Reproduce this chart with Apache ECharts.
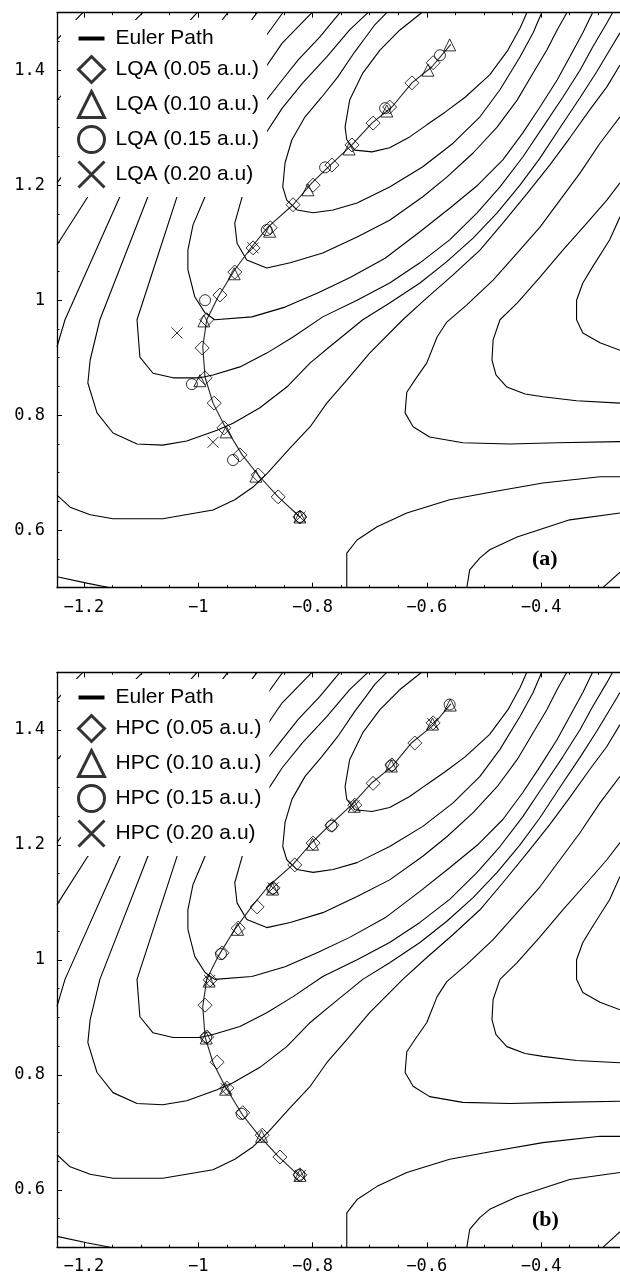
<!DOCTYPE html>
<html>
<head>
<meta charset="utf-8">
<script src="https://cdn.jsdelivr.net/npm/echarts@6/dist/echarts.min.js"></script>
<style>
  html, body { margin: 0; padding: 0; background: #fff; }
  #chart { width: 620px; height: 1276px; }
</style>
</head>
<body>
<div id="chart"></div>
<script>
// contour lines of the surface (same surface in both panels)
const contourU1 = [[-0.609,1.5],[-0.647,1.470],[-0.682,1.435],[-0.712,1.395],[-0.735,1.348],[-0.743,1.301],[-0.740,1.279],[-0.726,1.261],[-0.696,1.258],[-0.665,1.265],[-0.630,1.284],[-0.600,1.305],[-0.568,1.327],[-0.533,1.353],[-0.490,1.392],[-0.458,1.435],[-0.437,1.473],[-0.425,1.5]];
const contourU2 = [[-0.670,1.5],[-0.691,1.479],[-0.708,1.456],[-0.726,1.432],[-0.756,1.388],[-0.784,1.353],[-0.813,1.319],[-0.836,1.279],[-0.848,1.239],[-0.852,1.197],[-0.845,1.174],[-0.827,1.157],[-0.799,1.152],[-0.764,1.157],[-0.722,1.169],[-0.665,1.197],[-0.607,1.232],[-0.554,1.273],[-0.507,1.319],[-0.472,1.366],[-0.437,1.423],[-0.414,1.465],[-0.399,1.5]];
const contourU3 = [[-0.703,1.5],[-0.735,1.470],[-0.775,1.423],[-0.817,1.378],[-0.853,1.334],[-0.889,1.279],[-0.913,1.227],[-0.923,1.180],[-0.936,1.134],[-0.932,1.099],[-0.915,1.070],[-0.880,1.056],[-0.839,1.065],[-0.782,1.082],[-0.722,1.110],[-0.665,1.139],[-0.607,1.180],[-0.565,1.214],[-0.519,1.256],[-0.477,1.301],[-0.442,1.348],[-0.414,1.395],[-0.390,1.435],[-0.372,1.470],[-0.355,1.5]];
const contourC0 = [[-0.752,1.5],[-0.787,1.458],[-0.825,1.418],[-0.853,1.383],[-0.897,1.327],[-0.936,1.266],[-0.971,1.214],[-0.988,1.180],[-1.009,1.131],[-1.018,1.087],[-1.018,1.053],[-1.006,1.006],[-0.988,0.978],[-0.971,0.966],[-0.906,0.971],[-0.848,0.988],[-0.790,1.013],[-0.735,1.039],[-0.673,1.073],[-0.612,1.119],[-0.560,1.160],[-0.511,1.200],[-0.467,1.244],[-0.432,1.291],[-0.402,1.336],[-0.372,1.383],[-0.350,1.423],[-0.327,1.465],[-0.310,1.5]];
const contourC1 = [[-0.801,1.5],[-0.853,1.447],[-0.909,1.366],[-0.971,1.279],[-1.011,1.218],[-1.037,1.180],[-1.072,1.073],[-1.107,0.966],[-1.102,0.901],[-1.079,0.873],[-1.044,0.865],[-0.997,0.865],[-0.974,0.870],[-0.927,0.884],[-0.880,0.908],[-0.834,0.936],[-0.782,0.971],[-0.722,1.000],[-0.665,1.030],[-0.612,1.065],[-0.560,1.105],[-0.512,1.152],[-0.472,1.197],[-0.432,1.249],[-0.397,1.301],[-0.362,1.353],[-0.332,1.400],[-0.310,1.440],[-0.285,1.482],[-0.275,1.5]];
const contourC2 = [[-0.852,1.5],[-0.918,1.409],[-0.988,1.313],[-1.049,1.227],[-1.088,1.180],[-1.172,0.966],[-1.189,0.896],[-1.193,0.856],[-1.177,0.804],[-1.149,0.769],[-1.107,0.750],[-1.062,0.748],[-1.020,0.755],[-0.967,0.774],[-0.939,0.786],[-0.892,0.813],[-0.845,0.849],[-0.804,0.891],[-0.770,0.919],[-0.712,0.966],[-0.665,0.995],[-0.612,1.030],[-0.565,1.067],[-0.519,1.108],[-0.477,1.152],[-0.437,1.200],[-0.402,1.247],[-0.367,1.300],[-0.332,1.352],[-0.303,1.397],[-0.280,1.435],[-0.262,1.465]];
const contourC25 = [[-1.247,0.919],[-1.233,0.966],[-1.137,1.180],[-1.014,1.343],[-0.897,1.5]];
const contourLa = [[-1.247,1.096],[-1.193,1.180],[-1.084,1.327],[-0.948,1.5]];
const contourLb = [[-1.247,1.204],[-1.137,1.348],[-1.002,1.5]];
const contourLc = [[-1.247,1.348],[-1.172,1.426],[-1.097,1.5]];
const contourLd = [[-1.247,1.453],[-1.202,1.5]];
const contourC3 = [[-1.247,0.661],[-1.224,0.640],[-1.189,0.627],[-1.149,0.620],[-1.062,0.620],[-0.974,0.635],[-0.936,0.653],[-0.904,0.675],[-0.878,0.700],[-0.839,0.743],[-0.804,0.780],[-0.775,0.821],[-0.740,0.861],[-0.700,0.908],[-0.642,0.966],[-0.600,1.004],[-0.554,1.044],[-0.507,1.087],[-0.467,1.134],[-0.425,1.185],[-0.385,1.235],[-0.350,1.282],[-0.315,1.331],[-0.285,1.371],[-0.262,1.409]];
const contourC4 = [[-1.247,0.519],[-1.195,0.508],[-1.154,0.5]];
const contourV1 = [[-0.262,1.319],[-0.297,1.273],[-0.332,1.221],[-0.367,1.174],[-0.402,1.127],[-0.442,1.082],[-0.484,1.035],[-0.530,0.992],[-0.565,0.962],[-0.582,0.936],[-0.600,0.891],[-0.621,0.861],[-0.635,0.840],[-0.638,0.804],[-0.624,0.780],[-0.595,0.762],[-0.537,0.752],[-0.455,0.750],[-0.372,0.752],[-0.262,0.754]];
const contourV2 = [[-0.262,1.204],[-0.285,1.174],[-0.320,1.134],[-0.362,1.087],[-0.402,1.040],[-0.442,0.995],[-0.472,0.966],[-0.484,0.931],[-0.486,0.896],[-0.479,0.870],[-0.460,0.849],[-0.428,0.837],[-0.397,0.832],[-0.338,0.825],[-0.262,0.821]];
const contourV3 = [[-0.262,1.145],[-0.280,1.105],[-0.310,1.058],[-0.327,1.030],[-0.338,1.000],[-0.338,0.966],[-0.327,0.943],[-0.297,0.926],[-0.262,0.913]];
const contourD1 = [[-0.740,0.5],[-0.740,0.560],[-0.722,0.583],[-0.687,0.606],[-0.635,0.630],[-0.560,0.653],[-0.484,0.667],[-0.397,0.682],[-0.297,0.693],[-0.262,0.693]];
const contourD2 = [[-0.530,0.5],[-0.525,0.531],[-0.507,0.552],[-0.490,0.566],[-0.442,0.588],[-0.350,0.618],[-0.262,0.630]];
const contourD3 = [[-0.292,0.5],[-0.262,0.527]];

// Euler path (same reference path in both panels)
const eulerPath = [[-0.822,0.623],[-0.860,0.658],[-0.895,0.696],[-0.923,0.731],[-0.953,0.780],[-0.974,0.821],[-0.988,0.866],[-0.992,0.919],[-0.985,0.966],[-0.965,1.006],[-0.936,1.053],[-0.906,1.093],[-0.878,1.127],[-0.834,1.166],[-0.801,1.204],[-0.773,1.231],[-0.731,1.270],[-0.696,1.308],[-0.661,1.336],[-0.626,1.378],[-0.591,1.406],[-0.558,1.445]];

// panel (a): LQA steps
const lqaStep005 = [[-0.822,0.623],[-0.860,0.658],[-0.895,0.696],[-0.927,0.731],[-0.955,0.778],[-0.972,0.821],[-0.988,0.865],[-0.993,0.917],[-0.985,0.966],[-0.962,1.009],[-0.936,1.049],[-0.904,1.091],[-0.874,1.126],[-0.834,1.166],[-0.799,1.200],[-0.766,1.235],[-0.731,1.270],[-0.694,1.308],[-0.665,1.336],[-0.626,1.378],[-0.589,1.413]];
const lqaStep010 = [[-0.822,0.623],[-0.899,0.694],[-0.951,0.771],[-0.997,0.860],[-0.990,0.964],[-0.937,1.046],[-0.875,1.120],[-0.808,1.192],[-0.736,1.263],[-0.670,1.329],[-0.598,1.400],[-0.560,1.444]];
const lqaStep015 = [[-0.822,0.623],[-0.939,0.722],[-1.011,0.854],[-0.988,1.000],[-0.880,1.122],[-0.778,1.231],[-0.673,1.334],[-0.577,1.426]];
const lqaStep020 = [[-0.822,0.623],[-0.974,0.753],[-1.037,0.943],[-0.904,1.091]];

// panel (b): HPC steps
const hpcStep005 = [[-0.822,0.626],[-0.857,0.657],[-0.888,0.695],[-0.922,0.734],[-0.950,0.777],[-0.967,0.822],[-0.985,0.866],[-0.988,0.921],[-0.979,0.965],[-0.958,1.012],[-0.930,1.055],[-0.897,1.092],[-0.869,1.125],[-0.831,1.165],[-0.799,1.203],[-0.766,1.234],[-0.726,1.269],[-0.694,1.307],[-0.661,1.339],[-0.621,1.377],[-0.589,1.412]];
const hpcStep010 = [[-0.822,0.625],[-0.889,0.693],[-0.952,0.775],[-0.986,0.864],[-0.981,0.963],[-0.931,1.053],[-0.870,1.123],[-0.800,1.201],[-0.727,1.267],[-0.662,1.337],[-0.590,1.410],[-0.559,1.443]];
const hpcStep015 = [[-0.823,0.626],[-0.924,0.732],[-0.986,0.865],[-0.960,1.010],[-0.870,1.124],[-0.767,1.233],[-0.662,1.338],[-0.560,1.444]];
const hpcStep020 = [[-0.821,0.625],[-0.951,0.776],[-0.980,0.964],[-0.869,1.125],[-0.727,1.268],[-0.590,1.411]];

const xMajor = [-1.2, -1, -0.8, -0.6, -0.4];
const xMinor = [-1.2,-1.15,-1.1,-1.05,-1,-0.95,-0.9,-0.85,-0.8,-0.75,-0.7,-0.65,-0.6,-0.55,-0.5,-0.45,-0.4,-0.35,-0.3];
const yMajor = [0.6, 0.8, 1, 1.2, 1.4];
const yMinor = [0.55,0.6,0.65,0.7,0.75,0.8,0.85,0.9,0.95,1,1.05,1.1,1.15,1.2,1.25,1.3,1.35,1.4,1.45];

const contours = [contourU1, contourU2, contourU3, contourC0, contourC1, contourC2, contourC25,
  contourLa, contourLb, contourLc, contourLd, contourC3, contourC4,
  contourV1, contourV2, contourV3, contourD1, contourD2, contourD3];

const chart = echarts.init(document.getElementById('chart'));

const crossPath = 'path://M0,0L10,10M10,0L0,10';
const tickFont = { fontFamily: 'DejaVu Sans Mono', fontSize: 17, color: '#000' };

function fmt(v) {
  return String(+v.toFixed(2)).replace('-', '\u2212');
}

function xAxesFor(g) {
  const base = {
    type: 'value', gridIndex: g, min: -1.247, max: -0.262,
    splitLine: { show: false },
    axisLine: { onZero: false, lineStyle: { color: '#000', width: 1.3 } }
  };
  const hidden = { show: false };
  return [
    Object.assign({}, base, { position: 'bottom',
      axisTick: { inside: true, length: 5, customValues: xMajor, lineStyle: { color: '#000' } },
      axisLabel: Object.assign({ customValues: xMajor, formatter: fmt, margin: 11 }, tickFont) }),
    Object.assign({}, base, { position: 'bottom', axisLine: hidden,
      axisTick: { inside: true, length: 2.5, customValues: xMinor, lineStyle: { color: '#000' } },
      axisLabel: hidden }),
    Object.assign({}, base, { position: 'top',
      axisTick: { inside: true, length: 5, customValues: xMajor, lineStyle: { color: '#000' } },
      axisLabel: hidden }),
    Object.assign({}, base, { position: 'top', axisLine: hidden,
      axisTick: { inside: true, length: 2.5, customValues: xMinor, lineStyle: { color: '#000' } },
      axisLabel: hidden })
  ];
}

function yAxesFor(g) {
  const base = {
    type: 'value', gridIndex: g, min: 0.5, max: 1.5, position: 'left',
    splitLine: { show: false },
    axisLine: { onZero: false, lineStyle: { color: '#000', width: 1.3 } }
  };
  return [
    Object.assign({}, base, {
      axisTick: { inside: true, length: 5, customValues: yMajor, lineStyle: { color: '#000' } },
      axisLabel: Object.assign({ customValues: yMajor, formatter: fmt, margin: 12 }, tickFont) }),
    Object.assign({}, base, { axisLine: { show: false },
      axisTick: { inside: true, length: 2.5, customValues: yMinor, lineStyle: { color: '#000' } },
      axisLabel: { show: false } })
  ];
}

function legendFor(prefix, top) {
  const hollow = { color: 'rgba(0,0,0,0)', borderColor: '#000', borderWidth: 3 };
  return {
    orient: 'vertical', left: 61, top: top,
    padding: [8, 8, 8, 16], backgroundColor: '#fff',
    itemWidth: 26, itemHeight: 26, itemGap: 6,
    selectedMode: false,
    textStyle: { fontFamily: 'Liberation Sans', fontSize: 21, color: '#000', padding: [0, 0, 0, 6] },
    data: [
      { name: 'Euler Path', icon: 'path://M0,0H26V4H0Z', itemStyle: { color: '#000', borderWidth: 0 } },
      { name: prefix + ' (0.05 a.u.)', icon: 'diamond', itemStyle: hollow },
      { name: prefix + ' (0.10 a.u.)', icon: 'triangle', itemStyle: hollow },
      { name: prefix + ' (0.15 a.u.)', icon: 'circle', itemStyle: hollow },
      { name: prefix + ' (0.20 a.u)', icon: crossPath, itemStyle: hollow }
    ]
  };
}

function seriesFor(g, prefix, steps) {
  const xi = g * 4, yi = g * 2;
  const out = contours.map(c => ({
    type: 'line', data: c, xAxisIndex: xi, yAxisIndex: yi,
    showSymbol: false, symbol: 'none', silent: true, animation: false, z: 2,
    lineStyle: { color: '#000', width: 1.1 }
  }));
  out.push({
    type: 'line', name: 'Euler Path', data: eulerPath, xAxisIndex: xi, yAxisIndex: yi,
    showSymbol: false, symbol: 'none', silent: true, animation: false, z: 3,
    itemStyle: { color: '#000' }, lineStyle: { color: '#222', width: 1.1 }
  });
  const marks = [
    [' (0.05 a.u.)', 'diamond', 14],
    [' (0.10 a.u.)', 'triangle', 12],
    [' (0.15 a.u.)', 'circle', 11],
    [' (0.20 a.u)', crossPath, 11]
  ];
  marks.forEach((m, i) => {
    out.push({
      type: 'scatter', name: prefix + m[0], data: steps[i], xAxisIndex: xi, yAxisIndex: yi,
      symbol: m[1], symbolSize: m[2], silent: true, animation: false, z: 4,
      itemStyle: { color: 'rgba(0,0,0,0)', borderColor: '#000', borderWidth: 1 }
    });
  });
  return out;
}

const labelStyle = { fontFamily: 'Liberation Serif', fontWeight: 'bold', fontSize: 22, color: '#000' };

const option = {
  backgroundColor: '#fff',
  animation: false,
  grid: [
    { left: 57, right: 0, top: 12.7, height: 575 },
    { left: 57, right: 0, top: 672.3, height: 575 }
  ],
  xAxis: xAxesFor(0).concat(xAxesFor(1)),
  yAxis: yAxesFor(0).concat(yAxesFor(1)),
  legend: [legendFor('LQA', 20), legendFor('HPC', 679)],
  title: [
    { text: '(a)', left: 532, top: 548, padding: 0, textStyle: labelStyle },
    { text: '(b)', left: 532, top: 1209, padding: 0, textStyle: labelStyle }
  ],
  series: seriesFor(0, 'LQA', [lqaStep005, lqaStep010, lqaStep015, lqaStep020])
    .concat(seriesFor(1, 'HPC', [hpcStep005, hpcStep010, hpcStep015, hpcStep020]))
};

chart.setOption(option);
</script>
</body>
</html>
